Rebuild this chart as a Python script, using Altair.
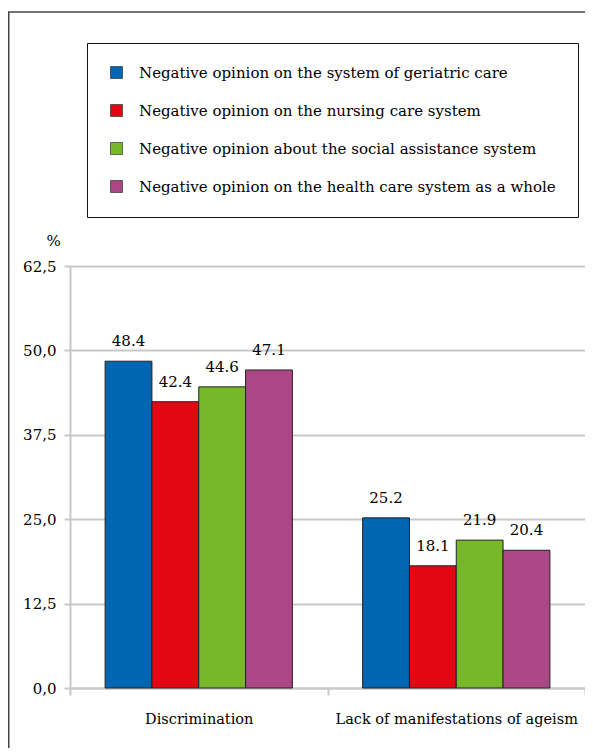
import altair as alt
import pandas as pd

categories = ["Discrimination", "Lack of manifestations of ageism"]
series = [
    "Negative opinion on the system of geriatric care",
    "Negative opinion on the nursing care system",
    "Negative opinion about the social assistance system",
    "Negative opinion on the health care system as a whole",
]
discrimination = [48.4, 42.4, 44.6, 47.1]
lack_of_ageism = [25.2, 18.1, 21.9, 20.4]
colors = ["#0066b3", "#e30613", "#77b82a", "#ab4784"]
y_ticks = [0, 12.5, 25, 37.5, 50, 62.5]

rows = []
for cat, vals in zip(categories, [discrimination, lack_of_ageism]):
    for s, v in zip(series, vals):
        rows.append({"category": cat, "series": s, "value": v})
df = pd.DataFrame(rows)

FONT = "DejaVu Serif"
FS = 15
GRID = "#c8c8c8"

x = alt.X(
    "category:N", sort=categories, title=None,
    scale=alt.Scale(paddingInner=0, paddingOuter=0),
    axis=alt.Axis(labelAngle=0, tickBand="extent", domainColor=GRID, domainWidth=2,
                  tickColor=GRID, tickWidth=2, tickSize=7, labelPadding=17,
                  labelFontSize=14.5, labelFont=FONT, labelColor="black", labelLimit=0, grid=False),
)
xo = alt.XOffset("series:N", sort=series, scale=alt.Scale(paddingOuter=0.75, paddingInner=0))
y = alt.Y(
    "value:Q", scale=alt.Scale(domain=[0, 62.5], nice=False),
    axis=alt.Axis(values=y_ticks, labelExpr="replace(format(datum.value, '.1f'), '.', ',')",
                  title="%", titleAngle=0, titleX=-17, titleY=-18, titleAlign="center",
                  titleFont=FONT, titleFontSize=FS, titleFontWeight="normal", titleColor="black",
                  labelFont=FONT, labelFontSize=FS, labelColor="black", labelPadding=8,
                  domainColor=GRID, domainWidth=2, tickColor=GRID, tickWidth=2, tickSize=6,
                  grid=True, gridColor=GRID, gridWidth=2),
)

bars = alt.Chart(df).mark_bar(stroke="#222", strokeWidth=1).encode(
    x=x, xOffset=xo, y=y,
    color=alt.Color("series:N", sort=series,
                    scale=alt.Scale(domain=series, range=colors),
                    legend=alt.Legend(orient="none", legendX=17, legendY=-223, title=None,
                                      strokeColor="#111", fillColor="white", padding=22,
                                      rowPadding=22, symbolType="square", symbolSize=144,
                                      symbolStrokeColor="#333", symbolStrokeWidth=0.7,
                                      labelFont=FONT, labelFontSize=FS, labelColor="black",
                                      labelOffset=15, labelLimit=0)),
)

labels = alt.Chart(df).mark_text(dy=-12, baseline="bottom", fontSize=FS, font=FONT, color="black").encode(
    x=x, xOffset=xo, y=y, text=alt.Text("value:Q", format=".1f"),
)

one = pd.DataFrame({"a": [0]})
frame_left = alt.Chart(one).mark_rule(color="#444", strokeWidth=1.5).encode(
    x=alt.value(-61.25), y=alt.value(-254), y2=alt.value(482))
frame_top = alt.Chart(one).mark_rule(color="#444", strokeWidth=1.5).encode(
    x=alt.value(-62), x2=alt.value(560), y=alt.value(-254))

chart = alt.layer(frame_left, frame_top, bars, labels).properties(
    width=515, height=422,
    autosize=alt.AutoSizeParams(type="none"),
    padding={"left": 62, "top": 258, "right": 0, "bottom": 60},
).configure_view(stroke=None)

chart.save("out.html", embed_options={"renderer": "svg", "actions": False})
